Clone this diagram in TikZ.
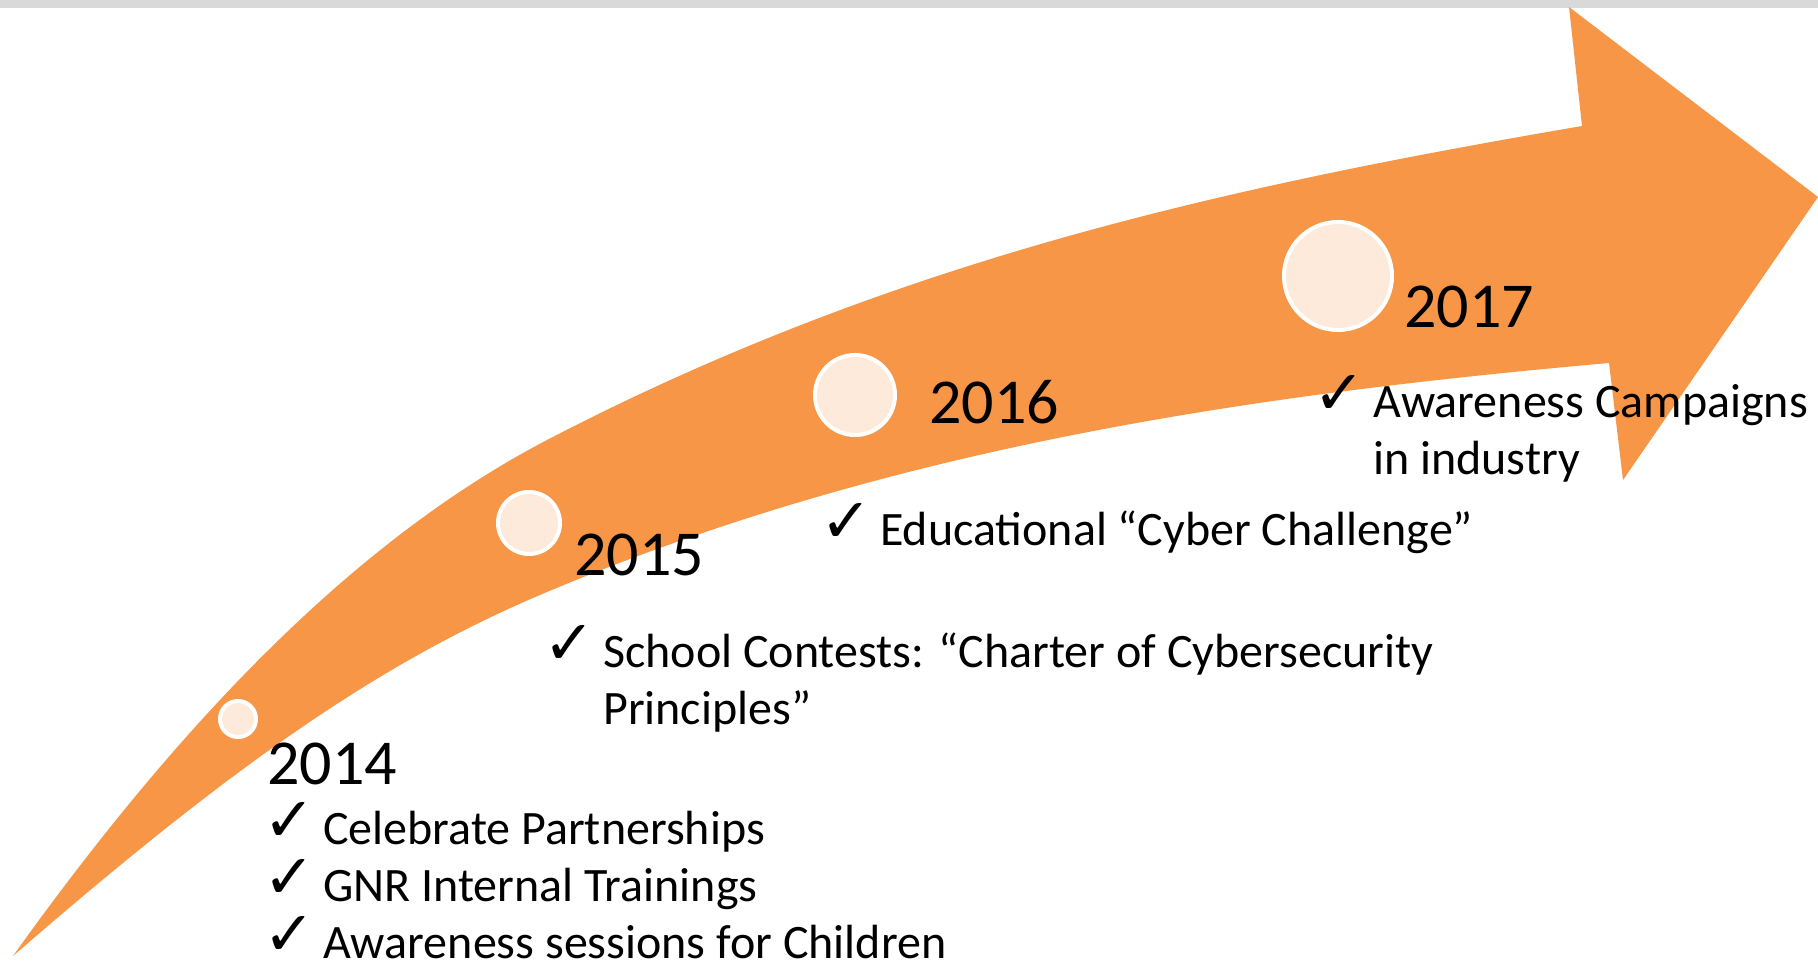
\documentclass[tikz,border=0pt]{standalone}
\usepackage{fontspec}
\setmainfont{Carlito}
\newfontfamily\tickfont{DejaVu Sans}
\definecolor{arroworange}{HTML}{F79646}
\definecolor{dotfill}{HTML}{FDEADA}
\definecolor{bargray}{HTML}{D9D9D9}
\tikzset{dot/.style={circle,fill=dotfill,draw=white,line width=4pt,inner sep=0pt}}
\tikzset{year/.style={anchor=base west,inner sep=0pt,font=\fontsize{64}{77}\selectfont}}
\tikzset{notes/.style={anchor=base west,inner sep=0pt,font=\fontsize{48}{57}\selectfont}}
\newcommand{\donemark}{\makebox[56pt][l]{\hspace{-4pt}\smash{\raisebox{3pt}{\tickfont\fontsize{62}{57}\selectfont ✓}}}}

\begin{document}
\begin{tikzpicture}[x=1pt,y=-1pt]
        \useasboundingbox (0,0) rectangle (1818,963);
        \fill[bargray] (0,0) rectangle (1818,8);

        \fill[arroworange] (13,956) .. controls (193,704) and (367,534) .. (547,440)
            .. controls (897,258) and (1232,186) .. (1582,126)
            -- (1569,7) -- (1818,197) -- (1623,480) -- (1609,363)
            .. controls (1259,394) and (897,445) .. (547,592)
            .. controls (380,662) and (233,765) .. (13,956) -- cycle;

        \node[dot,minimum size=36pt] (d14) at (238,719) {};
        \node[dot,minimum size=62pt] (d15) at (529,523) {};
        \node[dot,minimum size=80pt] (d16) at (855,395) {};
        \node[dot,minimum size=108pt] (d17) at (1338,276) {};

        \node[year] (y14) at (267,784) {2014};
        \node[year] (y15) at (574,575) {2015};
        \node[year] (y16) at (929,423) {2016};
        \node[year] (y17) at (1404,327) {2017};

        \node[notes] (n14) at (267,844) {\begin{tabular}[t]{@{}l@{}l@{}}
                \donemark & Celebrate Partnerships\\
                \donemark & GNR Internal Trainings\\
                \donemark & Awareness sessions for Children
            \end{tabular}};
        \node[notes] (n15) at (547,667) {\begin{tabular}[t]{@{}l@{}l@{}}
                \donemark & School Contests: “Charter of Cybersecurity\\
                & Principles”
            \end{tabular}};
        \node[notes] (n16) at (824,545) {\begin{tabular}[t]{@{}l@{}l@{}}
                \donemark & Educational “Cyber Challenge”
            \end{tabular}};
        \node[notes] (n17) at (1317,417) {\begin{tabular}[t]{@{}l@{}l@{}}
                \donemark & Awareness Campaigns\\
                & in industry
            \end{tabular}};
    \end{tikzpicture}
\end{document}
